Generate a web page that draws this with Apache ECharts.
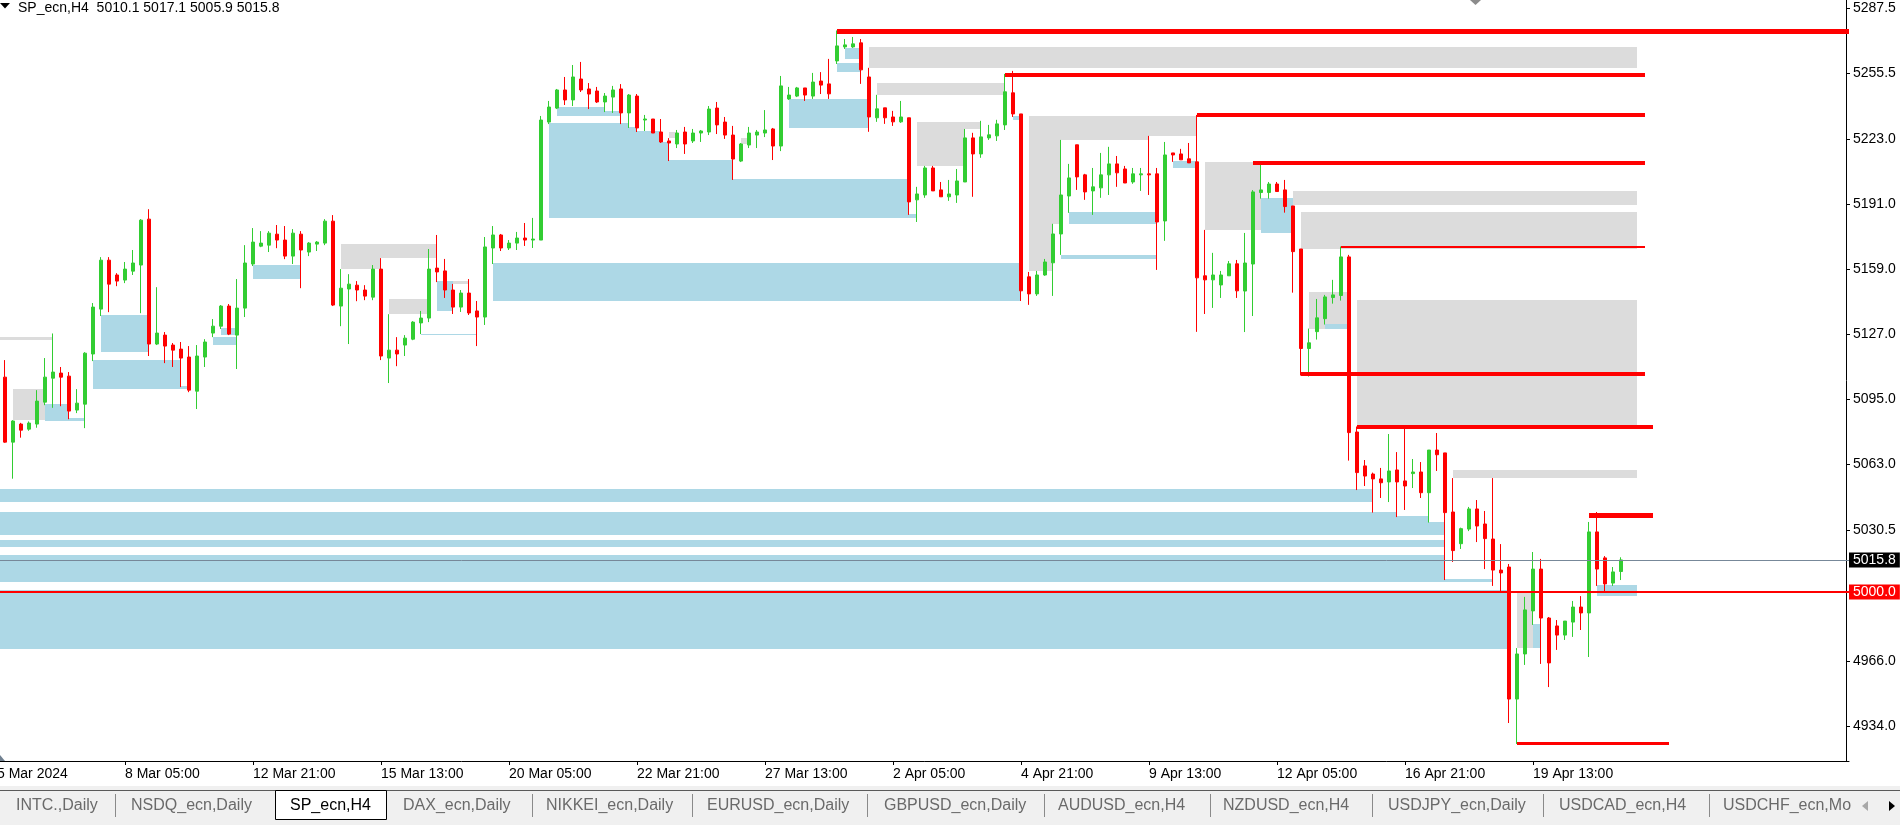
<!DOCTYPE html>
<html>
<head>
<meta charset="utf-8">
<script src="https://cdn.jsdelivr.net/npm/echarts@6/dist/echarts.min.js"></script>
<style>
html,body{margin:0;padding:0;background:#fff;}
#c{width:1900px;height:825px;}
</style>
</head>
<body>
<div id="c"></div>
<script>
// ---------------- DATA ----------------
const symbolName = 'SP_ecn,H4';

const opens = [
5105.8,5073.8,5082.7,5080.2,5082.7,5093.5,5105.3,5107.8,5106.3,5089.6,
5092.5,5117.2,5139.3,5163.4,5156.1,5153.6,5158.0,5161.0,5183.6,5122.1,
5126.5,5121.6,5119.6,5115.7,5098.9,5115.7,5127.5,5130.9,5140.8,5126.5,
5139.8,5161.5,5170.3,5170.8,5176.2,5173.3,5165.4,5176.2,5167.4,5171.3,
5171.8,5182.6,5140.8,5149.2,5151.1,5148.7,5145.2,5159.0,5115.2,5119.1,
5121.6,5124.5,5132.5,5134.9,5159.5,5158.1,5148.7,5140.3,5147.2,5138.4,
5135.4,5169.4,5175.8,5169.4,5171.8,5174.3,5173.3,5173.3,5231.4,5238.3,
5247.2,5242.3,5252.6,5247.7,5246.7,5241.3,5243.7,5247.7,5235.9,5244.2,
5232.4,5232.9,5226.5,5222.1,5220.6,5226.5,5222.1,5226.0,5226.5,5238.3,
5231.4,5225.0,5212.2,5220.1,5225.0,5226.0,5228.0,5219.6,5242.8,5244.2,
5248.2,5244.2,5251.6,5250.2,5261.5,5268.4,5268.4,5270.4,5253.6,5233.5,
5238.4,5233.9,5231.5,5233.5,5193.1,5195.5,5208.8,5198.0,5194.6,5195.5,
5201.9,5223.6,5215.7,5223.6,5224.6,5230.0,5245.8,5235.4,5155.2,5146.8,
5156.1,5162.1,5176.3,5195.0,5220.2,5205.4,5197.5,5199.0,5205.4,5210.8,
5208.3,5201.9,5205.4,5205.9,5205.9,5182.7,5216.2,5215.7,5213.3,5211.8,
5155.7,5153.7,5151.2,5155.7,5161.6,5148.2,5161.5,5196.7,5196.7,5200.9,
5198.0,5190.1,5168.9,5119.9,5128.2,5134.6,5145.0,5146.0,5165.0,5078.8,
5062.1,5058.1,5055.7,5054.2,5060.1,5054.7,5058.3,5059.1,5048.9,5069.9,
5068.5,5039.4,5023.8,5031.0,5040.9,5033.5,5026.1,5010.8,5012.3,4947.3,
4969.5,4990.7,5011.3,4987.2,4983.3,4978.8,4985.2,4992.6,4989.7,5029.6,
5016.8,5004.4,5010.1
];
const closes = [
5073.8,5084.2,5079.7,5083.2,5094.0,5105.8,5108.3,5105.8,5089.1,5093.0,
5117.6,5140.3,5163.4,5151.6,5153.1,5159.0,5162.0,5183.1,5122.1,5127.5,
5121.1,5119.1,5115.2,5099.4,5116.2,5123.1,5130.9,5140.8,5127.0,5139.8,
5162.0,5172.3,5171.8,5176.7,5173.3,5165.4,5176.7,5168.4,5171.8,5172.3,
5182.6,5141.3,5149.6,5151.6,5148.7,5145.7,5159.0,5116.2,5119.1,5117.2,
5125.0,5132.9,5134.9,5159.0,5157.6,5148.7,5140.3,5147.2,5137.4,5135.4,
5169.9,5175.8,5169.4,5171.8,5174.3,5173.3,5173.8,5232.4,5238.8,5247.2,
5242.3,5253.6,5247.2,5245.2,5241.3,5244.2,5247.2,5235.9,5244.7,5228.5,
5232.9,5226.0,5221.6,5221.1,5226.0,5220.6,5226.0,5227.0,5237.8,5230.0,
5225.0,5213.2,5220.6,5226.0,5226.5,5227.5,5219.6,5249.2,5244.7,5248.2,
5244.7,5251.1,5249.6,5245.3,5268.9,5269.4,5269.9,5257.1,5233.9,5237.9,
5233.5,5231.5,5233.9,5192.1,5196.0,5208.8,5197.5,5194.6,5196.0,5202.4,
5223.6,5215.7,5224.1,5225.1,5230.5,5246.3,5235.4,5148.3,5146.8,5156.1,
5162.5,5176.3,5195.5,5203.9,5204.4,5197.0,5199.5,5205.4,5210.8,5206.4,
5201.4,5205.9,5205.9,5205.4,5182.2,5215.2,5215.2,5212.8,5211.3,5154.7,
5153.7,5156.1,5156.1,5161.6,5148.3,5162.0,5197.0,5198.0,5200.9,5197.2,
5189.8,5167.6,5119.9,5122.7,5135.0,5145.3,5146.3,5165.0,5078.5,5058.8,
5057.1,5055.7,5053.8,5059.6,5054.2,5052.2,5059.1,5048.9,5069.9,5067.6,
5039.1,5020.4,5031.2,5040.9,5032.5,5026.3,5010.8,5009.4,4947.3,4969.5,
4991.2,5011.3,4987.2,4965.1,4978.8,4985.7,4992.6,4989.7,5029.6,5011.3,
5004.0,5009.9,5015.8
];
const lows = [
5073.5,5055.8,5076.0,5079.4,5080.9,5092.0,5090.7,5091.5,5085.1,5088.1,
5080.7,5113.7,5135.9,5137.8,5150.6,5152.1,5156.1,5137.3,5116.2,5121.6,
5112.7,5110.8,5100.9,5098.4,5090.1,5110.8,5125.5,5129.5,5126.5,5109.8,
5135.4,5160.5,5169.8,5167.4,5169.3,5163.9,5161.5,5149.6,5165.4,5167.9,
5170.8,5140.8,5130.9,5122.1,5143.2,5143.7,5143.7,5114.2,5102.9,5111.2,
5116.2,5124.0,5127.0,5132.9,5152.6,5144.8,5136.9,5137.9,5136.4,5121.1,
5131.5,5161.5,5167.9,5168.4,5168.4,5170.4,5169.4,5173.3,5230.4,5237.8,
5239.8,5239.3,5246.2,5237.8,5240.8,5236.3,5235.9,5230.4,5228.5,5226.5,
5227.0,5226.0,5221.1,5212.2,5218.6,5215.7,5221.1,5221.6,5225.0,5225.5,
5223.1,5202.9,5211.7,5218.6,5218.6,5224.0,5212.7,5217.1,5242.3,5243.7,
5241.8,5242.8,5245.2,5242.8,5260.0,5267.4,5267.9,5250.2,5226.6,5231.5,
5230.5,5229.5,5231.0,5185.7,5182.2,5194.1,5197.5,5194.6,5192.6,5191.6,
5201.9,5194.6,5213.8,5222.6,5222.1,5227.5,5233.9,5143.3,5141.4,5145.8,
5155.7,5145.8,5166.0,5186.7,5198.0,5193.1,5185.7,5194.1,5195.5,5199.5,
5201.4,5201.0,5197.5,5195.5,5158.6,5172.9,5211.8,5212.8,5211.3,5128.1,
5136.9,5139.9,5144.8,5155.7,5144.8,5128.0,5135.9,5193.7,5193.7,5197.2,
5186.8,5147.4,5106.6,5106.1,5124.3,5131.7,5142.0,5143.5,5064.7,5050.2,
5052.2,5039.1,5046.3,5044.3,5036.9,5040.4,5051.2,5046.3,5034.2,5059.6,
5005.9,5014.8,5021.2,5030.0,5024.6,5011.3,5003.0,5000.0,4935.5,4925.2,
4964.1,4983.8,4964.6,4953.2,4971.5,4976.4,4977.9,4981.3,4968.0,5003.0,
5000.5,5003.0,5005.9
];
const highs = [
5114.2,5084.6,5083.3,5084.0,5099.4,5115.2,5127.3,5110.8,5108.3,5099.9,
5118.1,5142.3,5164.9,5164.9,5157.0,5162.5,5168.4,5183.6,5188.5,5150.1,
5128.0,5122.6,5123.1,5121.1,5121.6,5124.5,5134.4,5141.3,5141.8,5154.1,
5170.8,5179.2,5177.7,5177.7,5180.7,5180.2,5178.7,5177.7,5172.3,5172.8,
5183.6,5185.6,5159.0,5156.5,5153.1,5151.1,5161.0,5164.4,5136.8,5125.5,
5126.5,5133.4,5138.4,5168.9,5175.8,5164.0,5151.7,5148.7,5154.1,5143.3,
5174.8,5180.2,5176.3,5173.3,5177.3,5181.7,5184.2,5234.4,5241.8,5247.7,
5253.6,5259.5,5261.0,5250.6,5248.7,5245.7,5249.2,5250.1,5245.2,5245.2,
5234.9,5232.9,5232.9,5223.5,5227.5,5229.0,5228.0,5227.5,5239.3,5241.3,
5233.9,5229.5,5221.1,5229.0,5227.5,5237.3,5228.5,5254.1,5248.7,5248.7,
5248.2,5255.6,5256.0,5262.5,5276.5,5272.3,5273.3,5272.3,5258.1,5244.8,
5238.4,5236.9,5241.8,5233.5,5199.5,5209.8,5209.8,5201.9,5202.9,5208.3,
5228.0,5226.1,5232.0,5230.0,5232.5,5255.1,5256.6,5235.4,5157.6,5158.1,
5164.0,5181.3,5222.6,5210.8,5220.2,5205.9,5208.8,5216.2,5219.2,5214.7,
5209.8,5208.8,5208.8,5224.6,5208.8,5221.6,5216.2,5218.2,5221.1,5234.9,
5178.3,5167.0,5158.1,5163.0,5163.5,5176.8,5197.9,5211.8,5201.9,5201.9,
5202.9,5190.1,5168.9,5129.7,5144.3,5146.3,5153.7,5170.1,5166.0,5081.5,
5065.0,5058.8,5061.1,5077.8,5068.9,5080.6,5065.5,5064.0,5069.9,5078.3,
5068.5,5056.1,5031.7,5041.9,5045.3,5039.9,5056.1,5023.6,5013.8,4972.4,
4997.6,5019.7,5016.3,4987.7,4986.2,4985.7,4995.6,4998.0,5034.5,5039.4,
5017.7,5012.3,5017.1
];

// zones: [fromBar, toBar, upperPrice, lowerPrice]
const blueZones = [
[-3,171,5050.7,5044.3],
[-3,174,5039.4,5028.1],[174,178,5037.4,5028.1],[178,180,5034.5,5028.1],
[-3,180,5025.6,5022.2],
[-3,180,5018.2,5004.9],[180,186,5006.4,5004.9],
[-3,188,5001.0,4971.9],
[5,8,5092.5,5084.2],[8,10,5085.6,5084.2],
[12,18,5136.4,5118.1],
[11,22,5114.2,5099.9],[22,23,5101.4,5099.9],
[27,29,5130.0,5126.5],[26,29,5125.5,5121.6],
[31,37,5161.0,5154.1],
[54,56,5153.1,5138.4],
[52,59,5127.2,5126.5],
[61,127,5162.0,5143.3],
[68,78,5230.9,5184.2],[78,79,5229.0,5184.2],[79,82,5227.0,5184.2],[82,83,5221.6,5184.2],
[83,91,5212.7,5184.2],[91,113,5203.4,5184.2],[113,114,5186.1,5184.2],
[69,75,5238.8,5234.4],[75,77,5236.8,5234.4],
[98,108,5243.0,5228.5],
[105,107,5267.9,5262.5],[104,107,5260.5,5256.1],
[126,127,5234.4,5232.5],
[133,144,5187.2,5181.3],
[132,144,5166.0,5164.0],
[146,149,5212.3,5208.8],
[157,161,5194.0,5176.8],
[165,168,5132.0,5129.7],
[191,192,4984.3,4972.4],
[199,204,5003.5,4998.0]
];
const greyZones = [
[-3,6,5125.5,5124.0],
[1,5,5099.9,5084.6],
[42,47,5171.3,5159.0],[47,54,5171.3,5164.4],
[48,53,5144.2,5136.8],
[56,58,5153.1,5151.6],
[83,84,5226.5,5223.5],
[92,93,5223.5,5220.6],
[108,204,5268.4,5258.1],
[109,125,5250.7,5244.8],
[114,120,5231.5,5209.8],[120,122,5231.5,5228.0],
[128,143,5234.4,5222.6],[143,149,5234.4,5224.6],[128,131,5234.4,5158.1],[131,132,5234.4,5181.3],
[150,157,5211.8,5178.3],
[161,204,5197.5,5190.6],
[162,204,5187.1,5168.9],
[163,168,5147.8,5129.7],
[169,204,5143.8,5081.5],
[181,204,5060.1,5056.3],
[189,191,4999.7,4972.4]
];
// red level segments: [fromBar, toBar, price]
const redLevels = [
[104,240,5276.0],
[125,205,5254.6],
[149,205,5234.9],
[156,205,5211.1],
[167,205,5170.1],
[162,205,5107.5],
[169,206,5081.5],
[198,206,5037.8],
[189,208,4925.5]
];
const levelLine = 5000.0;

const yTickValues = [5287.5,5255.5,5223.0,5191.0,5159.0,5127.0,5095.0,5063.0,5030.5,4966.0,4934.0];
const xTickBars = [-1,15,31,47,63,79,95,111,127,143,159,175,191];
const xTickLabels = ['5 Mar 2024','8 Mar 05:00','12 Mar 21:00','15 Mar 13:00','20 Mar 05:00','22 Mar 21:00','27 Mar 13:00','2 Apr 05:00','4 Apr 21:00','9 Apr 13:00','12 Apr 05:00','16 Apr 21:00','19 Apr 13:00'];
const tabNames = ['INTC.,Daily','NSDQ_ecn,Daily','SP_ecn,H4','DAX_ecn,Daily','NIKKEI_ecn,Daily','EURUSD_ecn,Daily','GBPUSD_ecn,Daily','AUDUSD_ecn,H4','NZDUSD_ecn,H4','USDJPY_ecn,Daily','USDCAD_ecn,H4','USDCHF_ecn,Mo'];

// ---------------- STYLE / LAYOUT ----------------
const redWidths = [5,4,4,4,2,4,4,5,3];
const tabTextX = [16,131,290,403,546,707,884,1058,1223,1388,1559,1723];
const tabSepX = [115,532,692,867,1044,1210,1372,1543,1709];
const activeTab = 2;
const FONT = '"Liberation Sans", Arial, sans-serif';
const N = 232; // categories for bars -1 .. 230
const yMin = 4916.8, yMax = 5291.5;

const cats = [];
for (let j = 0; j < N; j++) cats.push(String(j - 1));
const candleData = opens.map((o, i) => [i + 1, o, closes[i], lows[i], highs[i]]);
const last = opens.length - 1;
const bid = closes[last];

function clipTo(cs, r) {
  return echarts.graphic.clipRectByRect(r, {x: cs.x, y: cs.y, width: cs.width, height: cs.height});
}
function zoneSeries(list, color, z) {
  return {
    type: 'custom', z: z, silent: true, animation: false,
    data: list.map(r => [r[0] + 1, r[2], r[1] + 1, r[3]]),
    encode: {x: [0, 2], y: [1, 3]},
    renderItem: function (params, api) {
      const r = list[params.dataIndex];
      const p0 = api.coord([r[0] + 1, r[2]]);
      const p1 = api.coord([r[1] + 1, r[3]]);
      const x0 = Math.round(p0[0]), x1 = Math.round(p1[0]);
      const y0 = Math.round(p0[1]), y1 = Math.round(p1[1]);
      const shape = clipTo(params.coordSys, {x: x0, y: y0, width: x1 - x0, height: Math.max(1, y1 - y0)});
      return shape ? {type: 'rect', shape: shape, style: {fill: color}} : null;
    }
  };
}

const chart = echarts.init(document.getElementById('c'), null, {renderer: 'canvas'});

const graphics = [];
// title
graphics.push({type: 'polygon', shape: {points: [[0, 3], [10, 3], [5, 8.5]]}, style: {fill: '#000'}, z: 100});
graphics.push({type: 'text', z: 100, style: {
  text: symbolName + '  ' + opens[last].toFixed(1) + ' ' + highs[last].toFixed(1) + ' ' + lows[last].toFixed(1) + ' ' + closes[last].toFixed(1),
  x: 18, y: 8, verticalAlign: 'middle', fill: '#000', font: '14px ' + FONT}});
graphics.push({type: 'polygon', shape: {points: [[1470, 0], [1481, 0], [1475.5, 5]]}, style: {fill: '#8C8C8C'}, z: 100});
graphics.push({type: 'polygon', shape: {points: [[0, 755], [0, 761], [5, 761]]}, style: {fill: '#708090'}, z: 100});
// tab bar
graphics.push({type: 'rect', shape: {x: 0, y: 786, width: 1900, height: 39}, style: {fill: '#F0F0F0'}, z: 100});
graphics.push({type: 'line', shape: {x1: 0, y1: 790.5, x2: 1900, y2: 790.5}, style: {stroke: '#5A5A5A', lineWidth: 1}, z: 101});
graphics.push({type: 'rect', shape: {x: 275.5, y: 790.5, width: 111, height: 29}, style: {fill: '#FFFFFF', stroke: '#000', lineWidth: 1}, z: 102});
tabSepX.forEach(x => graphics.push({type: 'line', shape: {x1: x + 0.5, y1: 794, x2: x + 0.5, y2: 817}, style: {stroke: '#8A8A8A', lineWidth: 1}, z: 101}));
tabNames.forEach((t, k) => graphics.push({type: 'text', z: 103, style: {
  text: t, x: tabTextX[k], y: 806, verticalAlign: 'middle',
  fill: k === activeTab ? '#000' : '#6A6A6A', font: '16px ' + FONT}}));
graphics.push({type: 'rect', shape: {x: 1853, y: 792, width: 47, height: 27}, style: {fill: '#F0F0F0'}, z: 104});
graphics.push({type: 'polygon', shape: {points: [[1868, 801], [1868, 811], [1862, 806]]}, style: {fill: '#A8A8A8'}, z: 105});
graphics.push({type: 'polygon', shape: {points: [[1889, 801], [1889, 811], [1895, 806]]}, style: {fill: '#000'}, z: 105});

const option = {
  animation: false,
  backgroundColor: '#FFFFFF',
  grid: {left: -7, right: 51, top: 0, bottom: 64, containLabel: false, outerBoundsMode: 'none'},
  xAxis: {
    type: 'category', data: cats, boundaryGap: true,
    axisLine: {show: true, lineStyle: {color: '#000', width: 1}},
    axisTick: {show: true, alignWithLabel: true, length: 4, lineStyle: {color: '#000'},
      interval: (idx) => xTickBars.indexOf(idx - 1) >= 0},
    axisLabel: {show: true, interval: (idx) => xTickBars.indexOf(idx - 1) >= 0,
      formatter: (v, idx) => { const k = xTickBars.indexOf(idx - 1); return k >= 0 ? xTickLabels[k] : ''; },
      align: 'left', color: '#000', fontSize: 14, fontFamily: FONT, margin: 6},
    splitLine: {show: false}
  },
  yAxis: {
    type: 'value', position: 'right', min: yMin, max: yMax, offset: -3,
    axisLine: {show: true, lineStyle: {color: '#000', width: 1}},
    axisTick: {show: true, customValues: yTickValues, length: 4, lineStyle: {color: '#000'}},
    axisLabel: {show: true, customValues: yTickValues, formatter: v => Number(v).toFixed(1),
      color: '#000', fontSize: 14, fontFamily: FONT, margin: 7, padding: [5, 0, 0, 0]},
    splitLine: {show: false}
  },
  series: [
    zoneSeries(greyZones, '#DCDCDC', 1),
    zoneSeries(blueZones, '#ADD8E6', 2),
    {
      type: 'candlestick', z: 3, silent: true, animation: false,
      data: candleData, encode: {x: 0, y: [1, 2, 3, 4]},
      barWidth: 4,
      itemStyle: {color: '#32CD32', color0: '#FF0000', borderColor: '#32CD32', borderColor0: '#FF0000', borderWidth: 1}
    },
    {
      type: 'custom', z: 4, silent: true, animation: false,
      data: redLevels.map(r => [r[0] + 1, r[2], r[1] + 1]),
      encode: {x: [0, 2], y: 1},
      renderItem: function (params, api) {
        const r = redLevels[params.dataIndex];
        const w = redWidths[params.dataIndex];
        const p0 = api.coord([r[0] + 1, r[2]]);
        const p1 = api.coord([r[1] + 1, r[2]]);
        const yTop = Math.round(p0[1] - w / 2);
        const shape = clipTo(params.coordSys, {x: Math.round(p0[0]), y: yTop, width: Math.round(p1[0]) - Math.round(p0[0]), height: w});
        return shape ? {type: 'rect', shape: shape, style: {fill: '#FF0000'}} : null;
      }
    },
    {
      type: 'line', z: 6, data: [], silent: true, animation: false,
      markLine: {
        silent: true, symbol: ['none', 'none'], animation: false,
        data: [
          {yAxis: bid, lineStyle: {color: '#778899', width: 1, type: 'solid'},
            label: {show: true, position: 'end', distance: 0, formatter: () => bid.toFixed(1),
              color: '#FFF', backgroundColor: '#000', padding: [1, 4, 0, 4], fontSize: 14, fontFamily: FONT}},
          {yAxis: levelLine, lineStyle: {color: '#FF0000', width: 2, type: 'solid'},
            label: {show: true, position: 'end', distance: 0, formatter: () => levelLine.toFixed(1),
              color: '#FFF', backgroundColor: '#FF0000', padding: [1, 4, 0, 4], fontSize: 14, fontFamily: FONT}}
        ]
      }
    }
  ],
  graphic: graphics
};
chart.setOption(option);
</script>
</body>
</html>
